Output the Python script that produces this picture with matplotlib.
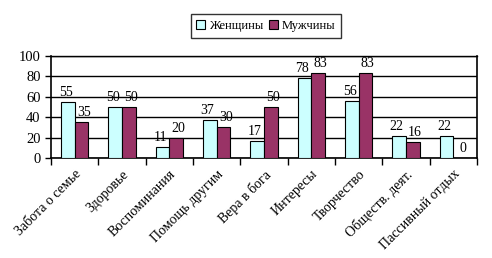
import matplotlib
matplotlib.use("Agg")
import matplotlib.pyplot as plt
import numpy as np

categories = ["Забота о семье", "Здоровье", "Воспоминания", "Помощь другим",
              "Вера в бога", "Интересы", "Творчество", "Обществ. деят.", "Пассивный отдых"]
women = [55, 50, 11, 37, 17, 78, 56, 22, 22]
men = [35, 50, 20, 30, 50, 83, 83, 16, 0]
yticks = [0, 20, 40, 60, 80, 100]

plt.rcParams['font.family'] = ['Liberation Serif', 'DejaVu Serif']

fig = plt.figure(figsize=(4.92, 2.58), dpi=100)
ax = fig.add_axes([51/492, 1-158/258, (477-51)/492, (158-56)/258])

x = np.arange(len(categories))
w = 0.2857
b1 = ax.bar(x - w/2, women, w, color="#CCFFFF", edgecolor="black", linewidth=0.8, label="Женщины", zorder=3)
b2 = ax.bar(x + w/2, men, w, color="#993366", edgecolor="black", linewidth=0.8, label="Мужчины", zorder=3)

for rect, v in zip(b1, women):
    ax.text(rect.get_x() + rect.get_width()/2 - 0.05, v + 3, str(v), ha="center", va="bottom", fontsize=10)
for rect, v in zip(b2, men):
    ax.text(rect.get_x() + rect.get_width()/2 + 0.05, v + 3, str(v), ha="center", va="bottom", fontsize=10)

ax.set_xlim(-0.5, len(categories) - 0.5)
ax.set_ylim(0, 100)
ax.set_yticks(yticks)
ax.tick_params(axis="y", labelsize=10.5, length=4, width=1, direction="out")
ax.yaxis.grid(True, color="black", linewidth=1, zorder=0)
ax.set_axisbelow(True)

ax.set_xticks(np.arange(len(categories) + 1) - 0.5)
ax.set_xticklabels([])
ax.tick_params(axis="x", length=5, width=1, direction="out")
ax.set_xticks(x, minor=True)
ax.set_xticklabels(categories, minor=True, rotation=45, ha="right", rotation_mode="anchor", fontsize=10)
ax.tick_params(axis="x", which="minor", length=0, pad=7)

for s in ["left", "bottom", "right"]:
    ax.spines[s].set_linewidth(1.2)
ax.spines["top"].set_linewidth(1)

leg = fig.legend(loc="upper center", bbox_to_anchor=(266/492, 1 - 8/258), ncol=2, frameon=True,
                 fontsize=9, handlelength=0.7, handleheight=0.7, handletextpad=0.3,
                 columnspacing=0.5, borderpad=0.45, fancybox=False, edgecolor="black")
leg.get_frame().set_linewidth(1)

fig.savefig("out.png", dpi=100)
